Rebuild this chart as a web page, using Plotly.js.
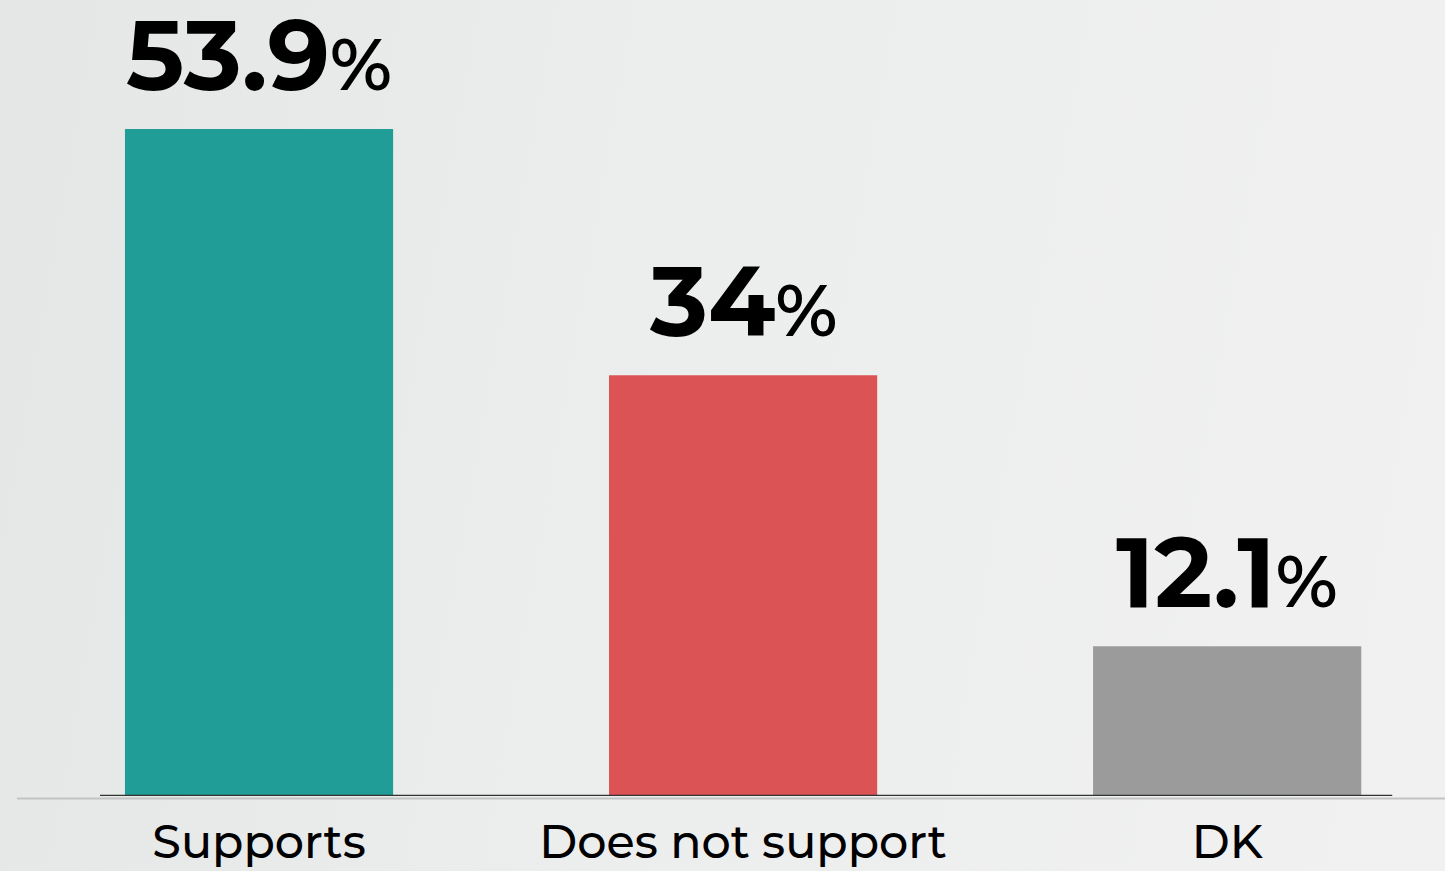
<!DOCTYPE html>
<html>
<head>
<meta charset="utf-8">
<script src="https://cdn.plot.ly/plotly-3.0.1.min.js"></script>
<style>
  html, body { margin: 0; padding: 0; width: 1445px; height: 871px; overflow: hidden;
    background: linear-gradient(100deg, #e4e7e6 0%, #eceded 45%, #f1f1f1 100%); }
  #chart { width: 1445px; height: 871px; }
</style>
</head>
<body>
<div id="chart"></div>
<script>
const categories = ["Supports", "Does not support", "DK"];
const values = [53.9, 34, 12.1];
const valueLabels = ["53.9", "34", "12.1"];
const colors = ["#1f9d96", "#dc5355", "#9b9b9b"];

const trace = {
  type: "bar",
  x: categories,
  y: values,
  width: 0.554,
  marker: { color: colors, line: { width: 0 } },
  hoverinfo: "skip"
};

const annotations = categories.map((c, i) => ({
  x: c, y: values[i], xref: "x", yref: "y",
  text: valueLabels[i] + '<span style="font-size:72px;font-weight:600">%</span>',
  showarrow: false, yanchor: "bottom", yshift: 12,
  height: 104, valign: "bottom",
  font: { family: "Montserrat, 'DejaVu Sans', Arial, sans-serif", size: 98, color: "#000000", weight: 700 }
}));

const layout = {
  width: 1445, height: 871,
  margin: { l: 17, r: 0, t: 0, b: 75 },
  paper_bgcolor: "rgba(0,0,0,0)",
  plot_bgcolor: "rgba(0,0,0,0)",
  showlegend: false,
  xaxis: {
    type: "category",
    range: [-0.5, 2.45],
    showgrid: false, zeroline: false,
    showline: false,
    ticks: "",
    ticklabelstandoff: 15,
    tickfont: { family: "Montserrat, 'DejaVu Sans', Arial, sans-serif", size: 46, color: "#000000", weight: 500 },
    fixedrange: true
  },
  yaxis: {
    range: [0, 64.32],
    visible: false,
    fixedrange: true
  },
  shapes: [
    { type: "line", xref: "paper", yref: "paper", x0: 0, x1: 1, y0: -0.003, y1: -0.003,
      line: { color: "#c2c4c3", width: 2 }, layer: "above" },
    { type: "line", xref: "x", yref: "y", x0: -0.3285, x1: 2.341, y0: 0, y1: 0,
      line: { color: "#333333", width: 2.5 }, layer: "above" }
  ],
  annotations: annotations
};

Plotly.newPlot("chart", [trace], layout, { displayModeBar: false, staticPlot: true });
</script>
</body>
</html>
